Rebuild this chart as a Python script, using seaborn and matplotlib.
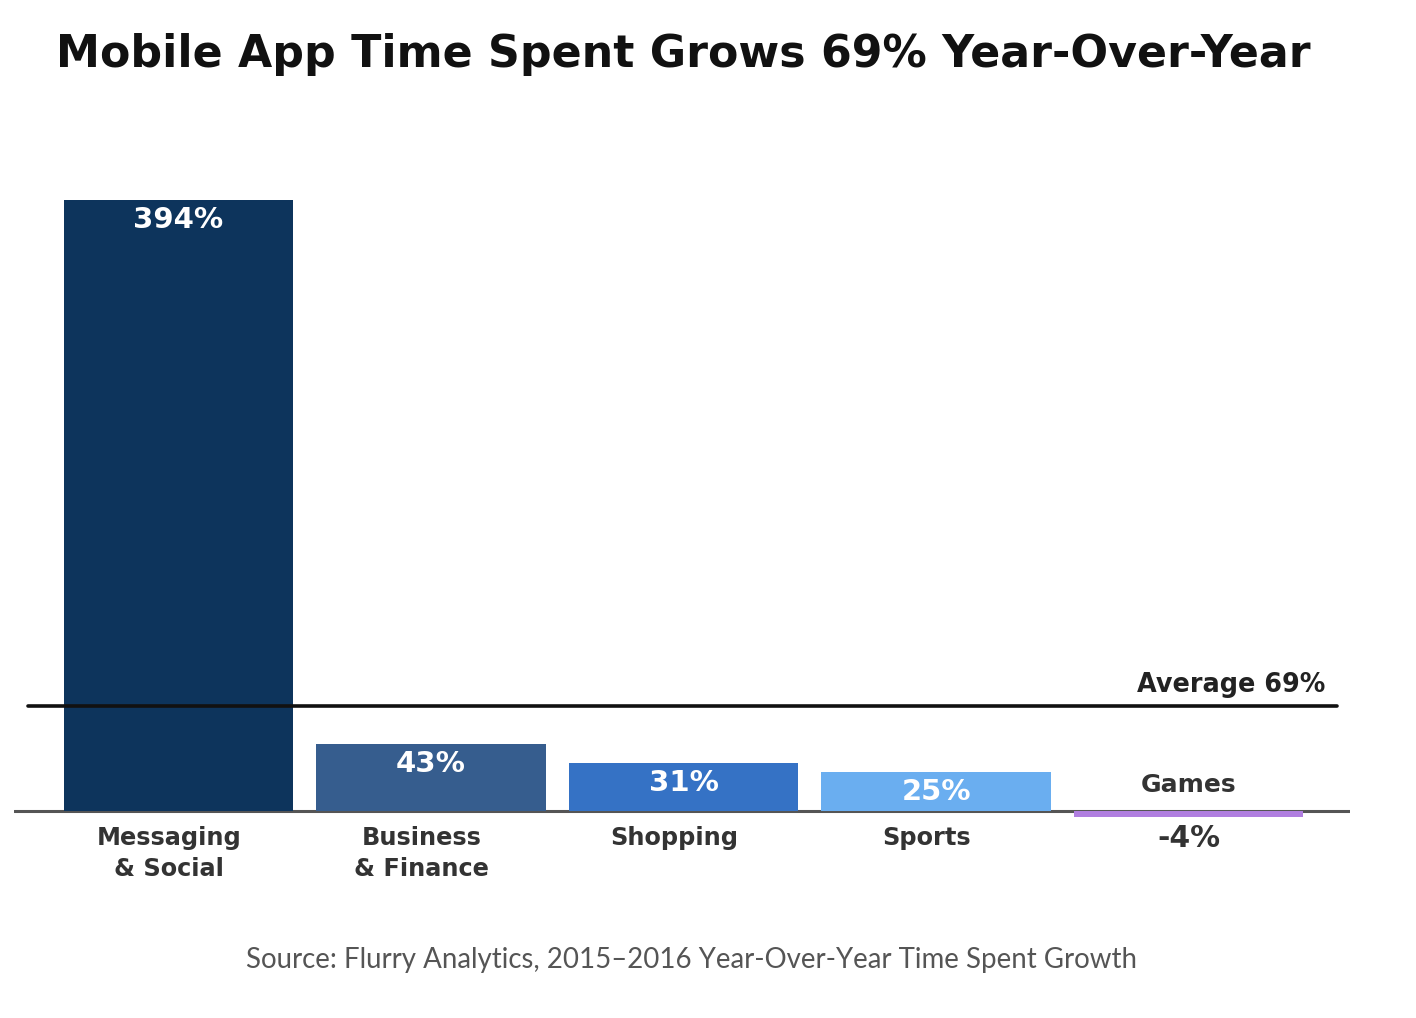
import matplotlib
matplotlib.use("Agg")
import matplotlib.pyplot as plt
import seaborn as sns
import pandas as pd

categories = ["Messaging\n& Social", "Business\n& Finance", "Shopping", "Sports", "Games"]
growth = [394, 43, 31, 25, -4]
value_labels = ["394%", "43%", "31%", "25%", "-4%"]
colors = ["#0d345c", "#365d8e", "#3572c5", "#6aaef0", "#b07ee0"]
average = 69
title = "Mobile App Time Spent Grows 69% Year-Over-Year"
source = "Source: Flurry Analytics, 2015\u20132016 Year-Over-Year Time Spent Growth"

sns.set_theme(style="white")
plt.rcParams['font.family'] = ['DejaVu Sans']

W, H = 1416, 1018
fig = plt.figure(figsize=(W / 100, H / 100), dpi=100)

# axes placement in pixels
px_left, px_right = 14, 1350
base_px = 811
px_per_unit = 1.55
ymin, ymax = -15, 400
ax_bottom_px = base_px - ymin * px_per_unit  # below baseline
ax_top_px = base_px - ymax * px_per_unit
ax = fig.add_axes([px_left / W, 1 - ax_bottom_px / H,
                   (px_right - px_left) / W, (ax_bottom_px - ax_top_px) / H])

df = pd.DataFrame({"category": categories, "growth": growth})
sns.barplot(data=df, x="category", y="growth", hue="category",
            palette=colors, legend=False, width=0.907, ax=ax,
            saturation=1, edgecolor="none")

spacing = 252.5
c0 = 178.5
ax.set_xlim((px_left - c0) / spacing, (px_right - c0) / spacing)
ax.set_ylim(ymin, ymax)
ax.axis("off")

# baseline
ax.axhline(0, color="#555555", lw=2.2, zorder=1)
for p in ax.patches:
    p.set_zorder(2)

# average line
x_a0 = (28 - c0) / spacing
x_a1 = (1337 - c0) / spacing
ax.plot([x_a0, x_a1], [average - 1.2, average - 1.2], color="#111111", lw=2.6, zorder=3)
ax.text((1325 - c0) / spacing, average + 12, f"Average {average}%",
        ha="right", va="center", fontsize=18.4, fontweight="bold", color="#222222")

# value labels
for i, (v, lab) in enumerate(zip(growth, value_labels)):
    if v > 0:
        ax.annotate(lab, (i, v), xytext=(0, -14.5), textcoords="offset points",
                    ha="center", va="center", color="white", fontsize=21,
                    fontweight="bold", zorder=4)

# category labels
for i, (cat, v, lab) in enumerate(zip(categories, growth, value_labels)):
    if v >= 0:
        ax.annotate(cat, (i, 0), xytext=(-7, -11), textcoords="offset points",
                    ha="center", va="top", color="#333333", fontsize=17.3,
                    fontweight="bold", linespacing=1.35)
    else:
        ax.annotate(cat, (i, 0), xytext=(0, 19), textcoords="offset points",
                    ha="center", va="center", color="#333333", fontsize=18,
                    fontweight="bold")
        ax.annotate(lab, (i, 0), xytext=(0, -20), textcoords="offset points",
                    ha="center", va="center", color="#333333", fontsize=21.5,
                    fontweight="bold")

fig.text(56 / W, 1 - 55 / H, title, ha="left", va="center", fontsize=31.9,
         fontweight="bold", color="#111111")
fig.text(692 / W, 1 - 960 / H, source, ha="center", va="center", fontsize=19.9,
         color="#555555", family=["Lato", "DejaVu Sans"])

fig.savefig("out.png", dpi=100, facecolor="white")
